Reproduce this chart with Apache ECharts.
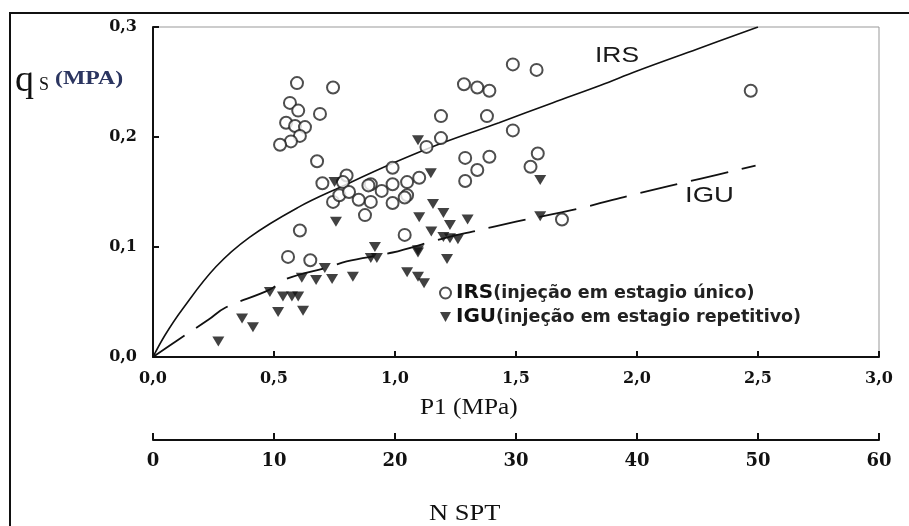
<!DOCTYPE html>
<html>
<head>
<meta charset="utf-8">
<script src="https://cdn.jsdelivr.net/npm/echarts@6/dist/echarts.min.js"></script>
<style>
  html, body { margin: 0; padding: 0; background: #fff; }
  #chart { width: 909px; height: 526px; }
</style>
</head>
<body>
<div id="chart"></div>
<script>
// pontos: [P1 (MPa), qs (MPa)]
var irsPoints = [
  [0.595,0.249],[0.744,0.245],[0.566,0.231],[0.60,0.224],[0.69,0.221],[0.55,0.213],
  [0.587,0.21],[0.628,0.209],[0.607,0.201],[0.57,0.196],[0.525,0.193],[0.678,0.178],
  [0.70,0.158],[0.80,0.165],[1.13,0.191],[0.99,0.172],[0.90,0.157],[0.945,0.151],
  [0.99,0.157],[1.05,0.159],[1.10,0.163],[1.05,0.147],[0.785,0.159],[0.89,0.156],
  [0.744,0.141],[0.77,0.147],[0.81,0.15],[0.85,0.143],[0.90,0.141],[0.99,0.14],
  [1.04,0.145],[0.876,0.129],[0.607,0.115],[0.558,0.091],[0.65,0.088],[1.04,0.111],
  [1.487,0.266],[1.585,0.261],[1.285,0.248],[1.34,0.245],[1.39,0.242],[1.19,0.219],
  [1.38,0.219],[1.487,0.206],[1.19,0.199],[1.29,0.181],[1.39,0.182],[1.34,0.17],
  [1.29,0.16],[1.59,0.185],[1.56,0.173],[1.69,0.125],[2.47,0.242]
];
var iguPoints = [
  [0.75,0.159],[0.756,0.123],[1.10,0.127],[0.917,0.1],[0.925,0.09],[0.90,0.09],
  [0.71,0.081],[0.615,0.072],[0.674,0.07],[0.74,0.071],[0.826,0.073],[0.483,0.059],
  [0.537,0.055],[0.574,0.055],[0.60,0.055],[0.517,0.041],[0.62,0.042],[0.368,0.035],
  [0.413,0.027],[1.05,0.077],[1.095,0.073],[1.12,0.067],[1.095,0.095],[0.27,0.014],
  [1.095,0.197],[1.148,0.167],[1.6,0.161],[1.157,0.139],[1.2,0.131],[1.227,0.12],
  [1.30,0.125],[1.15,0.114],[1.2,0.109],[1.227,0.108],[1.26,0.107],[1.095,0.097],
  [1.215,0.089],[1.6,0.128]
];
// curvas de ajuste
var irsCurve = [
  [0,0],[0.05,0.02],[0.12,0.043],[0.26,0.082],[0.4,0.109],[0.6,0.136],[0.78,0.155],
  [1.0,0.177],[1.2,0.195],[1.43,0.213],[1.65,0.231],[1.85,0.247],[2.0,0.26],
  [2.25,0.28],[2.5,0.3]
];
var iguCurve = [
  [0,0],[0.1,0.015],[0.23,0.034],[0.3,0.045],[0.48,0.061],[0.55,0.071],[0.73,0.082],
  [0.8,0.087],[0.99,0.095],[1.17,0.106],[1.32,0.114],[1.5,0.123],[1.76,0.135],
  [2.01,0.149],[2.26,0.162],[2.49,0.174]
];
var p1Ticks = [0, 3, 0.5];
var nsptTicks = [0, 60, 10];
var qsTicks = [0, 0.3, 0.1];
var legendText = {
  IRS: '(injeção em estagio único)',
  IGU: '(injeção em estagio repetitivo)'
};

var serif = 'DejaVu Serif';
var lsans = 'DejaVu Sans';
var comma = function (v) { return v.toFixed(1).replace('.', ','); };
var tri = 'path://M0,0L10,0L5,9Z';

var chart = echarts.init(document.getElementById('chart'));
chart.setOption({
  animation: false,
  backgroundColor: '#fff',
  grid: { left: 153, right: 30, top: 27, bottom: 169, show: true, borderColor: '#999', borderWidth: 1 },
  legend: {
    left: 434, top: 278, orient: 'vertical', itemGap: 4, itemWidth: 11, itemHeight: 11,
    data: [
      { name: 'IRS', icon: 'circle', itemStyle: { color: '#fff', borderColor: '#222', borderWidth: 2 } },
      { name: 'IGU', icon: tri, itemStyle: { color: '#111' } }
    ],
    formatter: function (name) { return '{b|' + name + '}{n|' + legendText[name] + '}'; },
    textStyle: {
      rich: {
        b: { fontFamily: lsans, fontWeight: 'bold', fontSize: 20, color: '#111' },
        n: { fontFamily: lsans, fontWeight: 'bold', fontSize: 17.5, color: '#222' }
      }
    }
  },
  xAxis: [
    {
      type: 'value', min: p1Ticks[0], max: p1Ticks[1], interval: p1Ticks[2],
      axisLine: { lineStyle: { color: '#111', width: 2 } },
      axisTick: { inside: true, length: 6, lineStyle: { color: '#111', width: 2 } },
      splitLine: { show: false },
      axisLabel: { formatter: comma, fontFamily: serif, fontWeight: 'bold', fontSize: 16, color: '#111', margin: 14 }
    },
    {
      type: 'value', position: 'bottom', offset: 83, min: nsptTicks[0], max: nsptTicks[1], interval: nsptTicks[2],
      axisLine: { show: true, lineStyle: { color: '#111', width: 2 } },
      axisTick: { show: true, inside: true, length: 7, lineStyle: { color: '#111', width: 2 } },
      splitLine: { show: false },
      axisLabel: { fontFamily: serif, fontWeight: 'bold', fontSize: 18, color: '#111', margin: 12 }
    }
  ],
  yAxis: {
    type: 'value', min: qsTicks[0], max: qsTicks[1], interval: qsTicks[2],
    axisLine: { show: true, lineStyle: { color: '#111', width: 2 } },
    axisTick: { show: true, inside: true, length: 6, lineStyle: { color: '#111', width: 2 } },
    splitLine: { show: false },
    axisLabel: { formatter: comma, fontFamily: serif, fontWeight: 'bold', fontSize: 16, color: '#111', margin: 16 }
  },
  graphic: [
    { type: 'polyline', shape: { points: [[10, 530], [10, 13], [909, 13]] }, style: { stroke: '#111', lineWidth: 2, fill: null } },
    { type: 'text', x: 15, y: 62, style: { text: 'q', font: '38px "Liberation Serif"', fill: '#111' } },
    { type: 'text', x: 39, y: 76, style: { text: 'S', font: '18px "Liberation Serif"', fill: '#111' } },
    { type: 'text', x: 55, y: 70, scaleX: 1.25, style: { text: '(MPA)', font: 'bold 19px "Liberation Serif"', fill: '#2b3560' } },
    { type: 'text', x: 420, y: 396, scaleX: 1.1, style: { text: 'P1 (MPa)', font: '23px "Liberation Serif"', fill: '#111' } },
    { type: 'text', x: 429, y: 502, scaleX: 1.15, style: { text: 'N SPT', font: '23px "Liberation Serif"', fill: '#111' } },
    { type: 'text', x: 595, y: 45, scaleX: 1.2, style: { text: 'IRS', font: '22px "Liberation Sans"', fill: '#1a1a1a' } },
    { type: 'text', x: 685, y: 185, scaleX: 1.25, style: { text: 'IGU', font: '22px "Liberation Sans"', fill: '#1a1a1a' } }
  ],
  series: [
    {
      name: 'IRS curve', type: 'line', data: irsCurve, smooth: 0.4, showSymbol: false,
      lineStyle: { color: '#111', width: 1.6 }, z: 2
    },
    {
      name: 'IGU curve', type: 'line', data: iguCurve, smooth: 0.4, showSymbol: false,
      lineStyle: { color: '#111', width: 1.8, type: [38, 14] }, z: 2
    },
    {
      name: 'IRS', type: 'scatter', data: irsPoints, symbol: 'circle', symbolSize: 12,
      itemStyle: { color: '#fff', borderColor: '#222', borderWidth: 2 }, z: 3
    },
    {
      name: 'IGU', type: 'scatter', data: iguPoints, symbol: tri, symbolSize: [12, 10],
      itemStyle: { color: '#111' }, z: 4
    }
  ]
});
</script>
</body>
</html>
